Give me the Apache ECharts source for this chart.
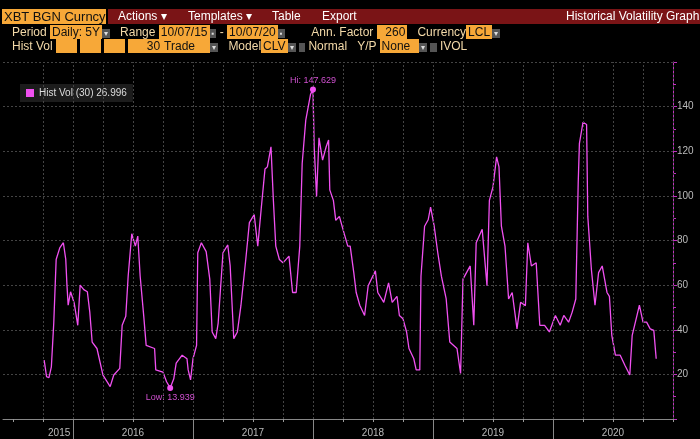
<!DOCTYPE html>
<html>
<head>
<meta charset="utf-8">
<script src="https://cdn.jsdelivr.net/npm/echarts@6/dist/echarts.min.js"></script>
<style>
  body { margin:0; background:#000; width:700px; height:439px; overflow:hidden; font-family:"Liberation Sans Narrow","Liberation Sans",Arial,sans-serif; }
  #chart { position:absolute; left:0; top:0; width:700px; height:439px; }
  .hdr { position:absolute; font-size:12px; white-space:nowrap; }
  .bar { position:absolute; left:108px; top:9px; width:592px; height:15px; background:#7a1416; }
  .org { background:#f7a838; color:#111; padding:0 2px; }
  .lbl { color:#f3d9a8; }
  .wht { color:#fff; }
  .dd { background:#555; color:#ddd; font-size:8px; padding:0 2px; }
</style>
</head>
<body>
<div id="chart"></div>
<div class="bar"></div>
<div class="hdr org" style="left:2px;top:9px;width:100px;height:15px;font-size:13px;line-height:15px;">XBT BGN Curncy</div>
<div class="hdr wht" style="left:118px;top:9px;line-height:15px;">Actions ▾</div>
<div class="hdr wht" style="left:188px;top:9px;line-height:15px;">Templates ▾</div>
<div class="hdr wht" style="left:272px;top:9px;line-height:15px;">Table</div>
<div class="hdr wht" style="left:322px;top:9px;line-height:15px;">Export</div>
<div class="hdr wht" style="left:566px;top:9px;line-height:15px;">Historical Volatility Graph</div>
<div class="hdr" style="left:12px;top:25px;">
  <span class="lbl">Period</span> <span class="org">Daily: 5Y</span><span class="dd">▾</span>
  &nbsp;&nbsp;<span class="lbl">Range</span> <span class="org">10/07/15</span><span class="dd">▪</span> <span class="lbl">-</span> <span class="org">10/07/20</span><span class="dd">▪</span>
  &nbsp;&nbsp;&nbsp;&nbsp;&nbsp;&nbsp;&nbsp;<span class="lbl">Ann. Factor</span> <span class="org">&nbsp;&nbsp;260</span>
  &nbsp;&nbsp;<span class="lbl">Currency</span><span class="org">LCL</span><span class="dd">▾</span>
</div>
<div class="hdr" style="left:12px;top:39px;">
  <span class="lbl">Hist Vol</span> <span class="org">&nbsp;&nbsp;&nbsp;&nbsp;&nbsp;</span> <span class="org">&nbsp;&nbsp;&nbsp;&nbsp;&nbsp;</span> <span class="org">&nbsp;&nbsp;&nbsp;&nbsp;&nbsp;</span> <span class="org">&nbsp;&nbsp;&nbsp;&nbsp;&nbsp;30</span><span class="org">Trade&nbsp;&nbsp;&nbsp;&nbsp;</span><span class="dd">▾</span>
  &nbsp;&nbsp;<span class="lbl">Model</span><span class="org">CLV</span><span class="dd">▾</span>
  <span class="dd">&nbsp;</span> <span class="lbl">Normal</span> &nbsp;&nbsp;<span class="lbl">Y/P</span> <span class="org">None&nbsp;&nbsp;</span><span class="dd">▾</span>
  <span class="dd">&nbsp;</span> <span class="lbl">IVOL</span>
</div>
<script>
// decimal year, hist vol (30)
var years = [2015.76,2015.78,2015.80,2015.82,2015.84,2015.86,2015.89,2015.92,2015.94,2015.95,2015.96,2015.98,
  2016.01,2016.04,2016.06,2016.09,2016.12,2016.14,2016.16,2016.20,2016.25,2016.31,2016.34,2016.39,2016.41,2016.44,
  2016.46,2016.49,2016.52,2016.54,2016.56,2016.59,2016.61,2016.68,2016.69,2016.75,2016.78,2016.81,2016.84,2016.86,
  2016.91,2016.95,2016.96,2016.98,2017.00,2017.03,2017.04,2017.07,2017.11,2017.14,2017.16,2017.19,2017.21,2017.25,
  2017.29,2017.31,2017.34,2017.37,2017.40,2017.44,2017.47,2017.51,2017.54,2017.57,2017.60,2017.62,2017.65,2017.67,
  2017.69,2017.72,2017.75,2017.80,2017.83,2017.86,2017.89,2017.91,2017.94,2017.98,2018.00,2018.01,2018.03,2018.05,
  2018.08,2018.11,2018.13,2018.14,2018.17,2018.19,2018.22,2018.25,2018.29,2018.31,2018.34,2018.36,2018.39,2018.43,
  2018.46,2018.52,2018.54,2018.59,2018.63,2018.66,2018.70,2018.72,2018.75,2018.78,2018.80,2018.84,2018.86,2018.89,
  2018.90,2018.93,2018.96,2018.98,2019.01,2019.04,2019.07,2019.11,2019.14,2019.20,2019.23,2019.25,2019.31,2019.34,
  2019.36,2019.41,2019.45,2019.47,2019.50,2019.53,2019.55,2019.57,2019.60,2019.63,2019.66,2019.70,2019.73,2019.77,
  2019.79,2019.82,2019.86,2019.89,2019.93,2019.97,2020.02,2020.06,2020.09,2020.13,2020.16,2020.19,2020.21,2020.22,
  2020.25,2020.28,2020.29,2020.32,2020.35,2020.38,2020.41,2020.45,2020.47,2020.49,2020.52,2020.56,2020.60,2020.64,
  2020.66,2020.70,2020.72,2020.75,2020.78,2020.81,2020.84,2020.86];
var vols = [26.4,19,18.5,23.4,43,71.5,76.7,79,71.5,60,51,57,
  52,42,60,58,57,48,34.5,31.6,19.7,14.5,19.7,22.7,42,46,
  64,83,77.5,82,64,46,33,31.6,22,21,16.7,13.939,18,25,
  28.6,27,22,17.5,27,33,74.5,79,75,62.7,39,36,43,74.5,
  78,68.6,36,39,51,71.5,88,91.6,77.5,95,112,113,122,98,
  77.5,71.5,70,73,56.7,56.7,77.5,114.5,134,145.6,147.629,122,99.7,126,
  116,122,125,102.7,98,89,90.8,85,77.5,77.5,65.6,56.7,51,46.4,
  59.7,66.4,56.7,52.3,61,52.3,55,46.4,44.9,39,31.6,27,22,22,
  64,86.4,89.3,95,86.4,74.5,64,53.8,34.5,31.6,20.4,62.7,68.6,42,
  79,85,59.7,98,104,117.5,113,86.4,77.5,53.8,56.7,40.4,52.3,50.8,
  79,68.6,70,42,42,39,46.4,42,46.4,43.4,47.9,53.8,105.6,123.4,
  133,132,90.8,67,51,65.6,68.6,56.7,55,37.5,28.6,28.6,24,19.7,
  37.5,46.4,51,43.4,43.4,40.4,39.7,26.996];
var yearLabels = ['2015','2016','2017','2018','2019','2020'];
var yearMid = [2015.885,2016.5,2017.5,2018.5,2019.5,2020.5];
var yearEdges = [2016,2017,2018,2019,2020];
var quarters = [];
for (var q = 2015.5; q <= 2021; q += 0.25) quarters.push(q);

var chart = echarts.init(document.getElementById('chart'));
var pink = '#f050f0';
var hiIdx = vols.indexOf(Math.max.apply(null, vols));
var loIdx = vols.indexOf(Math.min.apply(null, vols));

chart.setOption({
  backgroundColor: '#000',
  animation: false,
  textStyle: { fontFamily: 'Liberation Sans Narrow, Liberation Sans, sans-serif' },
  grid: { left: 3, right: 27, top: 62, bottom: 20 },
  legend: {
    left: 20, top: 84, itemWidth: 8, itemHeight: 8, padding: [4, 6],
    backgroundColor: '#1c1c1c',
    textStyle: { color: '#ddd', fontSize: 10 },
    data: [{ name: 'Hist Vol (30) 26.996', icon: 'rect' }]
  },
  xAxis: [{
    type: 'value', min: 2015.417, max: 2021,
    axisLine: { lineStyle: { color: '#888' } },
    axisTick: { customValues: quarters, length: 3, lineStyle: { color: '#999' } },
    axisLabel: { customValues: yearMid, color: '#bbb', fontSize: 10, margin: 9,
      formatter: function (v) { return yearLabels[yearMid.indexOf(v)] || ''; } },
    splitLine: { show: false }
  }, {
    type: 'value', min: 2015.417, max: 2021, position: 'bottom',
    axisLine: { show: false },
    axisTick: { customValues: yearEdges, length: 20, lineStyle: { color: '#888' } },
    axisLabel: { show: false }, splitLine: { show: false }
  }],
  yAxis: {
    type: 'value', position: 'right', min: 0, max: 160, interval: 20,
    axisLine: { show: true, lineStyle: { color: '#c030c0' } },
    axisTick: { show: true, length: 4, lineStyle: { color: '#c030c0' } },
    minorTick: { show: true, splitNumber: 2, length: 3, lineStyle: { color: '#c030c0' } },
    axisLabel: { color: '#bbb', fontSize: 10, margin: 4,
      formatter: function (v) { return (v === 0 || v === 160) ? '' : v; } },
    splitLine: { lineStyle: { color: '#444', type: [2, 2] } }
  },
  series: [{
    name: 'Hist Vol (30) 26.996', type: 'line', showSymbol: false,
    data: years.map(function (y, i) { return [y, vols[i]]; }),
    itemStyle: { color: pink },
    lineStyle: { color: pink, width: 1.3 },
    markLine: {
      silent: true, symbol: 'none', label: { show: false },
      lineStyle: { color: '#444', type: [2, 2], width: 1 },
      data: quarters.slice(1).map(function (q) { return { xAxis: q }; })
    },
    markPoint: {
      symbol: 'circle', symbolSize: 6, itemStyle: { color: pink },
      data: [
        { coord: [years[hiIdx], vols[hiIdx]], label: { show: true, position: 'top', distance: 2, color: '#d050d0', fontSize: 9, formatter: 'Hi: ' + vols[hiIdx] } },
        { coord: [years[loIdx], vols[loIdx]], label: { show: true, position: 'bottom', distance: 2, color: '#d050d0', fontSize: 9, formatter: 'Low: ' + vols[loIdx] } }
      ]
    }
  }]
});
</script>
</body>
</html>
